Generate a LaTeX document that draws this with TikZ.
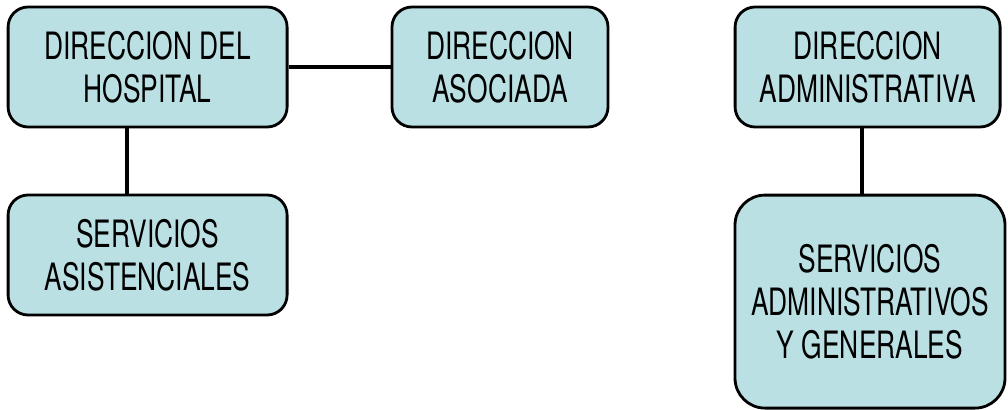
\documentclass[tikz,border=0pt]{standalone}
\usepackage{fontspec}
\setmainfont[FakeStretch=0.7]{TeX Gyre Heros}
\definecolor{cajaazul}{HTML}{BBE0E3}
\tikzset{
  caja/.style={draw=black, line width=2pt, fill=cajaazul, rounded corners=0.5cm,
    align=center, inner sep=0pt,
    font=\fontsize{26.8}{30.6}\selectfont},
  enlace/.style={line width=2.6pt}
}
\begin{document}
\begin{tikzpicture}
        \useasboundingbox (0,0) rectangle (25.2,-10.25);
        \node[caja, minimum width=6.975cm, minimum height=3cm](hospital) at (3.69,-1.675){DIRECCION DEL\\HOSPITAL};
        \node[caja, minimum width=5.4cm, minimum height=3cm](asociada) at (12.5,-1.675){DIRECCION\\ASOCIADA};
        \node[caja, minimum width=6.625cm, minimum height=3cm](administrativa) at (21.69,-1.675){DIRECCION\\ADMINISTRATIVA};
        \node[caja, minimum width=6.975cm, minimum height=3cm](asistenciales) at (3.69,-6.375){SERVICIOS\\ASISTENCIALES};
        \node[caja, rounded corners=0.75cm, minimum width=6.75cm, minimum height=5.325cm](generales) at (21.75,-7.54){SERVICIOS\\ADMINISTRATIVOS\\Y GENERALES};
        \draw[enlace] (hospital.east) -- (asociada.west);
        \draw[enlace] ([xshift=-0.51cm]hospital.south) -- ([xshift=-0.51cm]hospital.south |- asistenciales.north);
        \draw[enlace] ([xshift=-0.14cm]administrativa.south) -- ([xshift=-0.14cm]administrativa.south |- generales.north);
    \end{tikzpicture}
\end{document}
